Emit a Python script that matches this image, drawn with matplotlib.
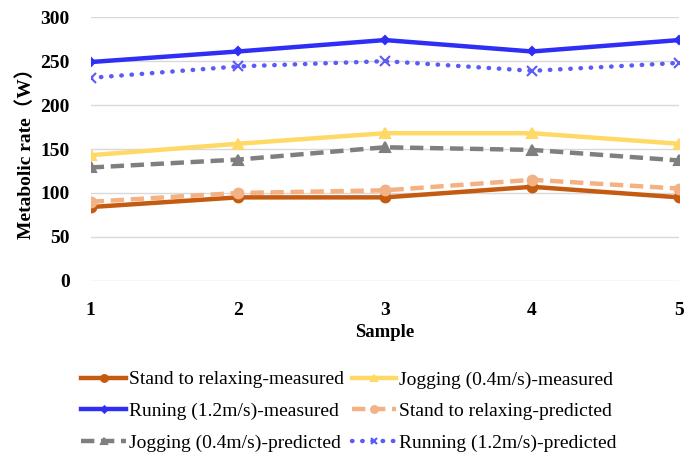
import numpy as np
import matplotlib.pyplot as plt

plt.rcParams['font.family'] = ['Liberation Serif', 'DejaVu Serif']

### Data
samples = [1, 2, 3, 4, 5]
stand_measured = [84, 95, 95, 107, 95]
jog_measured = [143, 156, 168, 168, 156]
run_measured = [249, 261, 274, 261, 274]
stand_predicted = [90, 100, 103, 115, 105]
jog_predicted = [129, 138, 152, 149, 137]
run_predicted = [231, 244, 250, 239, 248]

labels = [
    'Stand to relaxing-measured',
    'Jogging (0.4m/s)-measured',
    'Runing (1.2m/s)-measured',
    'Stand to relaxing-predicted',
    'Jogging (0.4m/s)-predicted',
    'Running (1.2m/s)-predicted',
]

fig = plt.figure(figsize=(6.98, 4.53), dpi=100)
ax = fig.add_axes([0.130, 0.380, 0.843, 0.582])

### Series: (values, colour, linestyle, marker)
series = [
    (stand_measured, '#C55A11', '-', 'o'),
    (jog_measured, '#FFD966', '-', '^'),
    (run_measured, '#2E2EF5', '-', 'D'),
    (stand_predicted, '#F4B183', (0, (3, 1.5)), 'o'),
    (jog_predicted, '#7F7F7F', (0, (3, 1.5)), '^'),
    (run_predicted, '#5B5BF7', (0, (0.1, 2.2)), 'x'),
]

handles = []
for (vals, col, ls, mk), lab in zip(series, labels):
    dotted = mk == 'x'
    h, = ax.plot(samples, vals, color=col, linestyle=ls, linewidth=3.2,
                 marker=mk, markersize=7 if mk != 'D' else 4.5,
                 markeredgewidth=1.5, label=lab,
                 dash_capstyle='round' if dotted else 'butt')
    handles.append(h)

ax.set_xlim(1, 5)
ax.set_ylim(0, 300)
ax.set_yticks(range(0, 301, 50))
ax.set_xticks(samples)
ax.grid(axis='y', color='#D9D9D9', linewidth=1)
ax.set_axisbelow(True)
for s in ax.spines.values():
    s.set_visible(False)
ax.tick_params(length=0, labelsize=14)
ax.tick_params(axis='x', pad=15)
ax.tick_params(axis='y', pad=15)
for t in ax.get_xticklabels() + ax.get_yticklabels():
    t.set_fontweight('bold')

ax.set_xlabel('Sample', fontsize=13.5, fontweight='bold', labelpad=4)
ax.set_ylabel('Metabolic rate\uff08W\uff09', fontsize=14, fontweight='bold',
              family=['Liberation Serif', 'Noto Sans CJK SC'], labelpad=4)

### Legend filled row by row like the reference
order = [0, 2, 4, 1, 3, 5]
fig.legend([handles[i] for i in order], [labels[i] for i in order],
           loc='lower center', bbox_to_anchor=(0.5, -0.036), ncol=2,
           frameon=False, fontsize=14, handlelength=2.3, handletextpad=0.15,
           columnspacing=0.4, labelspacing=0.72, markerscale=0.7)

fig.savefig('out.png', dpi=100)
